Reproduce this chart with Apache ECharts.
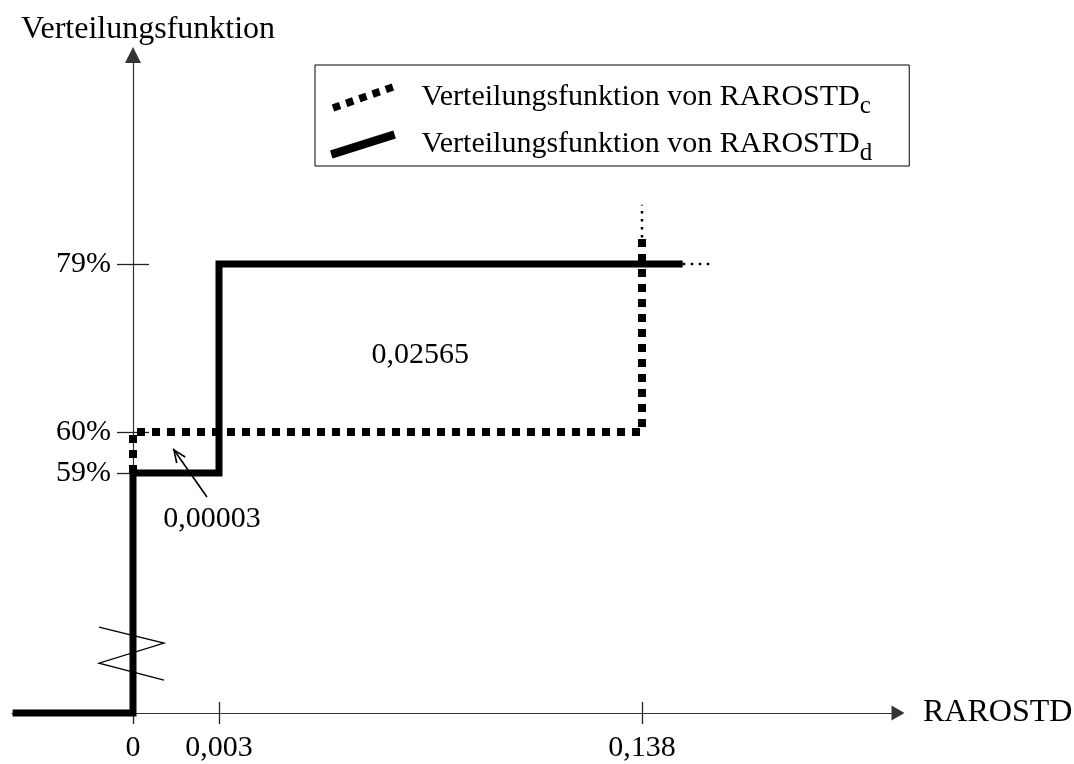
<!DOCTYPE html>
<html>
<head>
<meta charset="utf-8">
<script src="https://cdn.jsdelivr.net/npm/echarts@6/dist/echarts.min.js"></script>
<style>
html,body{margin:0;padding:0;background:#fff;}
#chart{width:1074px;height:764px;}
</style>
</head>
<body>
<div id="chart"></div>
<script>
// ---------------- data ----------------
const xTickValues = [0, 0.003, 0.138];
const xTickLabels = ['0', '0,003', '0,138'];
const yTickValues = [0.59, 0.60, 0.79];
const yTickLabels = ['59%', '60%', '79%'];
const seriesNames = ['Verteilungsfunktion von RAROSTD_c', 'Verteilungsfunktion von RAROSTD_d'];
// step functions (x = RAROSTD, y = cumulative probability)
const cdfC = [[0, 0.59], [0, 0.60], [0.138, 0.60], [0.138, 0.82]];
const cdfCTail = [[0.138, 0.82], [0.138, 0.857]];
const cdfD = [[-0.0042, 0], [0, 0], [0, 0.59], [0.003, 0.59], [0.003, 0.79], [0.151, 0.79]];
const cdfDTail = [[0.151, 0.79], [0.161, 0.79]];
// annotations
const annotationTexts = ['0,02565', '0,00003'];
const annotationAt = [[0.0672, 0.687], [0.00276, 0.477]];
const arrowFrom = [0.00258, 0.531];
const arrowTo = [0.0014, 0.5959];
const xAxisName = 'RAROSTD';
const yAxisName = 'Verteilungsfunktion';

// ---------------- schematic (broken, non-linear) scales ----------------
const xScaleAnchors = { values: [0, 0.003, 0.138], units: [0, 86, 509] };
const yScaleAnchors = { values: [0, 0.59, 0.60, 0.79], units: [0, 240, 281, 449] };
const xUnitMin = -121, xUnitMax = 765, yUnitMax = 658;
function piecewise(a, v) {
  const V = a.values, U = a.units, n = V.length;
  let i = 0;
  if (v <= V[0]) i = 0;
  else if (v >= V[n - 1]) i = n - 2;
  else { while (v > V[i + 1]) i++; }
  return U[i] + (v - V[i]) * (U[i + 1] - U[i]) / (V[i + 1] - V[i]);
}
const mx = v => piecewise(xScaleAnchors, v);
const my = v => piecewise(yScaleAnchors, v);
const mapPts = arr => arr.map(p => [mx(p[0]), my(p[1])]);
const xTickUnits = xTickValues.map(mx);
const yTickUnits = yTickValues.map(my);

// layout: origin of the plot (value 0 / 0) in pixels; 1 unit = 1 px
const originX = 133, axisTop = 55, originY = 713;
const gridLeft = originX + xUnitMin;
const gridRight = 1074 - (originX + xUnitMax);

const FONT = 'Liberation Serif';

// legend icons (slanted marks)
function rotRect(cx, cy, w, h, ang) {
  const c = Math.cos(ang), s = Math.sin(ang);
  const pts = [[-w/2, -h/2], [w/2, -h/2], [w/2, h/2], [-w/2, h/2]].map(([x, y]) =>
    [(cx + x * c - y * s).toFixed(2), (cy + x * s + y * c).toFixed(2)]);
  return 'M' + pts.map(p => p.join(',')).join(' L') + ' Z ';
}
const iconAng = -19 * Math.PI / 180;
let dottedIcon = 'path://';
for (let i = 0; i < 5; i++) dottedIcon += rotRect(4.5 + 15 * i, 25 - 5.25 * i, 8.5, 8.5, iconAng);
const solidIcon = 'path://' + rotRect(34, 15, 67, 8.5, -17.5 * Math.PI / 180);
// open arrow head (tip at symbol centre; balancing move point keeps it centred)
const arrowHead = 'path://M0,-14 M0,0 L6,14 L4.4,14.7 L0,3.6 L-4.4,14.7 L-6,14 Z';

const chart = echarts.init(document.getElementById('chart'));

const axisLineColor = '#333';
const tickStyle = { color: '#222', width: 1.3 };
const labelStyle = { fontFamily: FONT, fontSize: 30, color: '#000' };
const nameStyle = { fontFamily: FONT, fontSize: 32, color: '#000' };

const option = {
  animation: false,
  backgroundColor: '#fff',
  grid: { left: gridLeft, right: gridRight, top: axisTop, bottom: 764 - originY, containLabel: false, outerBoundsMode: 'none' },
  legend: {
    orient: 'vertical',
    left: 315, top: 65,
    padding: [11, 37, 0, 15],
    itemGap: 4,
    itemWidth: 67, itemHeight: 28,
    borderColor: '#000', borderWidth: 1,
    selectedMode: false,
    data: [{ name: seriesNames[0], icon: dottedIcon }, { name: seriesNames[1], icon: solidIcon }],
    formatter: n => n.replace(/_(\w)$/, '{s|$1}'),
    itemStyle: { borderWidth: 0 },
    textStyle: {
      fontFamily: FONT, fontSize: 30, color: '#000', lineHeight: 30, padding: [0, 0, 0, 20],
      rich: { s: { fontFamily: FONT, fontSize: 25, lineHeight: 25, color: '#000', padding: [18, 0, 0, 0] } }
    }
  },
  xAxis: [
    {
      type: 'value', min: xUnitMin, max: xUnitMax, position: 'bottom',
      name: xAxisName, nameLocation: 'end', nameGap: 25,
      nameTextStyle: Object.assign({ align: 'left', verticalAlign: 'middle' }, nameStyle),
      axisLine: { show: true, onZero: false, lineStyle: { color: axisLineColor, width: 1.2 }, symbol: ['none', 'triangle'], symbolSize: [15, 13] },
      axisTick: { show: true, customValues: xTickUnits, length: 11, lineStyle: tickStyle },
      axisLabel: Object.assign({ customValues: xTickUnits, margin: 20,
        formatter: v => { const i = xTickUnits.findIndex(u => Math.abs(u - v) < 1e-6); return i >= 0 ? xTickLabels[i] : ''; } }, labelStyle),
      splitLine: { show: false }
    },
    {
      type: 'value', min: xUnitMin, max: xUnitMax, position: 'bottom',
      axisLine: { show: false, onZero: false },
      axisTick: { show: true, inside: true, customValues: xTickUnits, length: 11, lineStyle: tickStyle },
      axisLabel: { show: false },
      splitLine: { show: false }
    }
  ],
  yAxis: [
    {
      type: 'value', min: 0, max: yUnitMax, position: 'left', offset: xUnitMin,
      name: yAxisName, nameLocation: 'end', nameGap: 25,
      nameTextStyle: Object.assign({ align: 'center', verticalAlign: 'middle', padding: [0, 0, 0, 30] }, nameStyle),
      axisLine: { show: true, onZero: false, lineStyle: { color: axisLineColor, width: 1.2 }, symbol: ['none', 'triangle'], symbolSize: [16, 16] },
      axisTick: { show: true, customValues: yTickUnits, length: 16, lineStyle: tickStyle },
      axisLabel: Object.assign({ customValues: yTickUnits, margin: 22,
        formatter: v => { const i = yTickUnits.findIndex(u => Math.abs(u - v) < 1e-6); return i >= 0 ? yTickLabels[i] : ''; } }, labelStyle),
      splitLine: { show: false }
    },
    {
      type: 'value', min: 0, max: yUnitMax, position: 'left', offset: xUnitMin,
      axisLine: { show: false, onZero: false },
      axisTick: { show: true, inside: true, customValues: yTickUnits, length: 16, lineStyle: tickStyle },
      axisLabel: { show: false },
      splitLine: { show: false }
    }
  ],
  series: [
    {
      name: seriesNames[0], type: 'line', data: mapPts(cdfC), symbol: 'none', clip: false, z: 2,
      itemStyle: { color: '#000' },
      lineStyle: { color: '#000', width: 8, type: [8, 7], cap: 'butt', join: 'miter' }
    },
    {
      name: 'tailC', type: 'line', data: mapPts(cdfCTail), symbol: 'none', clip: false, z: 2,
      lineStyle: { color: '#000', width: 2.5, type: [2.5, 5.5], cap: 'butt' }
    },
    {
      name: seriesNames[1], type: 'line', data: mapPts(cdfD), symbol: 'none', clip: false, z: 3,
      itemStyle: { color: '#000' },
      lineStyle: { color: '#000', width: 7, type: 'solid', cap: 'butt', join: 'miter' }
    },
    {
      name: 'tailD', type: 'line', data: mapPts(cdfDTail), symbol: 'none', clip: false, z: 2,
      lineStyle: { color: '#000', width: 2.5, type: [2.5, 5.5], cap: 'butt' }
    },
    {
      name: 'annotations', type: 'scatter', data: mapPts(annotationAt), symbolSize: 0, clip: false, z: 4,
      itemStyle: { opacity: 1, color: '#000' },
      label: Object.assign({ show: true, position: 'inside', opacity: 1, formatter: p => annotationTexts[p.dataIndex] }, labelStyle),
      markLine: {
        silent: true, animation: false,
        symbol: ['none', arrowHead], symbolSize: [12, 28],
        lineStyle: { color: '#000', width: 1.6, type: 'solid', opacity: 1 },
        label: { show: false },
        data: [[{ coord: [mx(arrowFrom[0]), my(arrowFrom[1])] }, { coord: [mx(arrowTo[0]), my(arrowTo[1])] }]]
      }
    }
  ]
};
chart.setOption(option);

// axis-break zigzag on the y axis
const breakAt = 0.146; // position on the (compressed) lower y segment
const bp = chart.convertToPixel({ xAxisIndex: 0, yAxisIndex: 0 }, [0, my(breakAt)]);
const zig = [[-34, -26.5], [31, -10.5], [-34, 9.5], [31, 26.5]].map(([dx, dy]) => [bp[0] + dx, bp[1] + dy]);
chart.setOption({
  graphic: [{
    type: 'polyline', z: 10, silent: true,
    shape: { points: zig },
    style: { stroke: '#000', lineWidth: 1.3, fill: null }
  }]
});
</script>
</body>
</html>
